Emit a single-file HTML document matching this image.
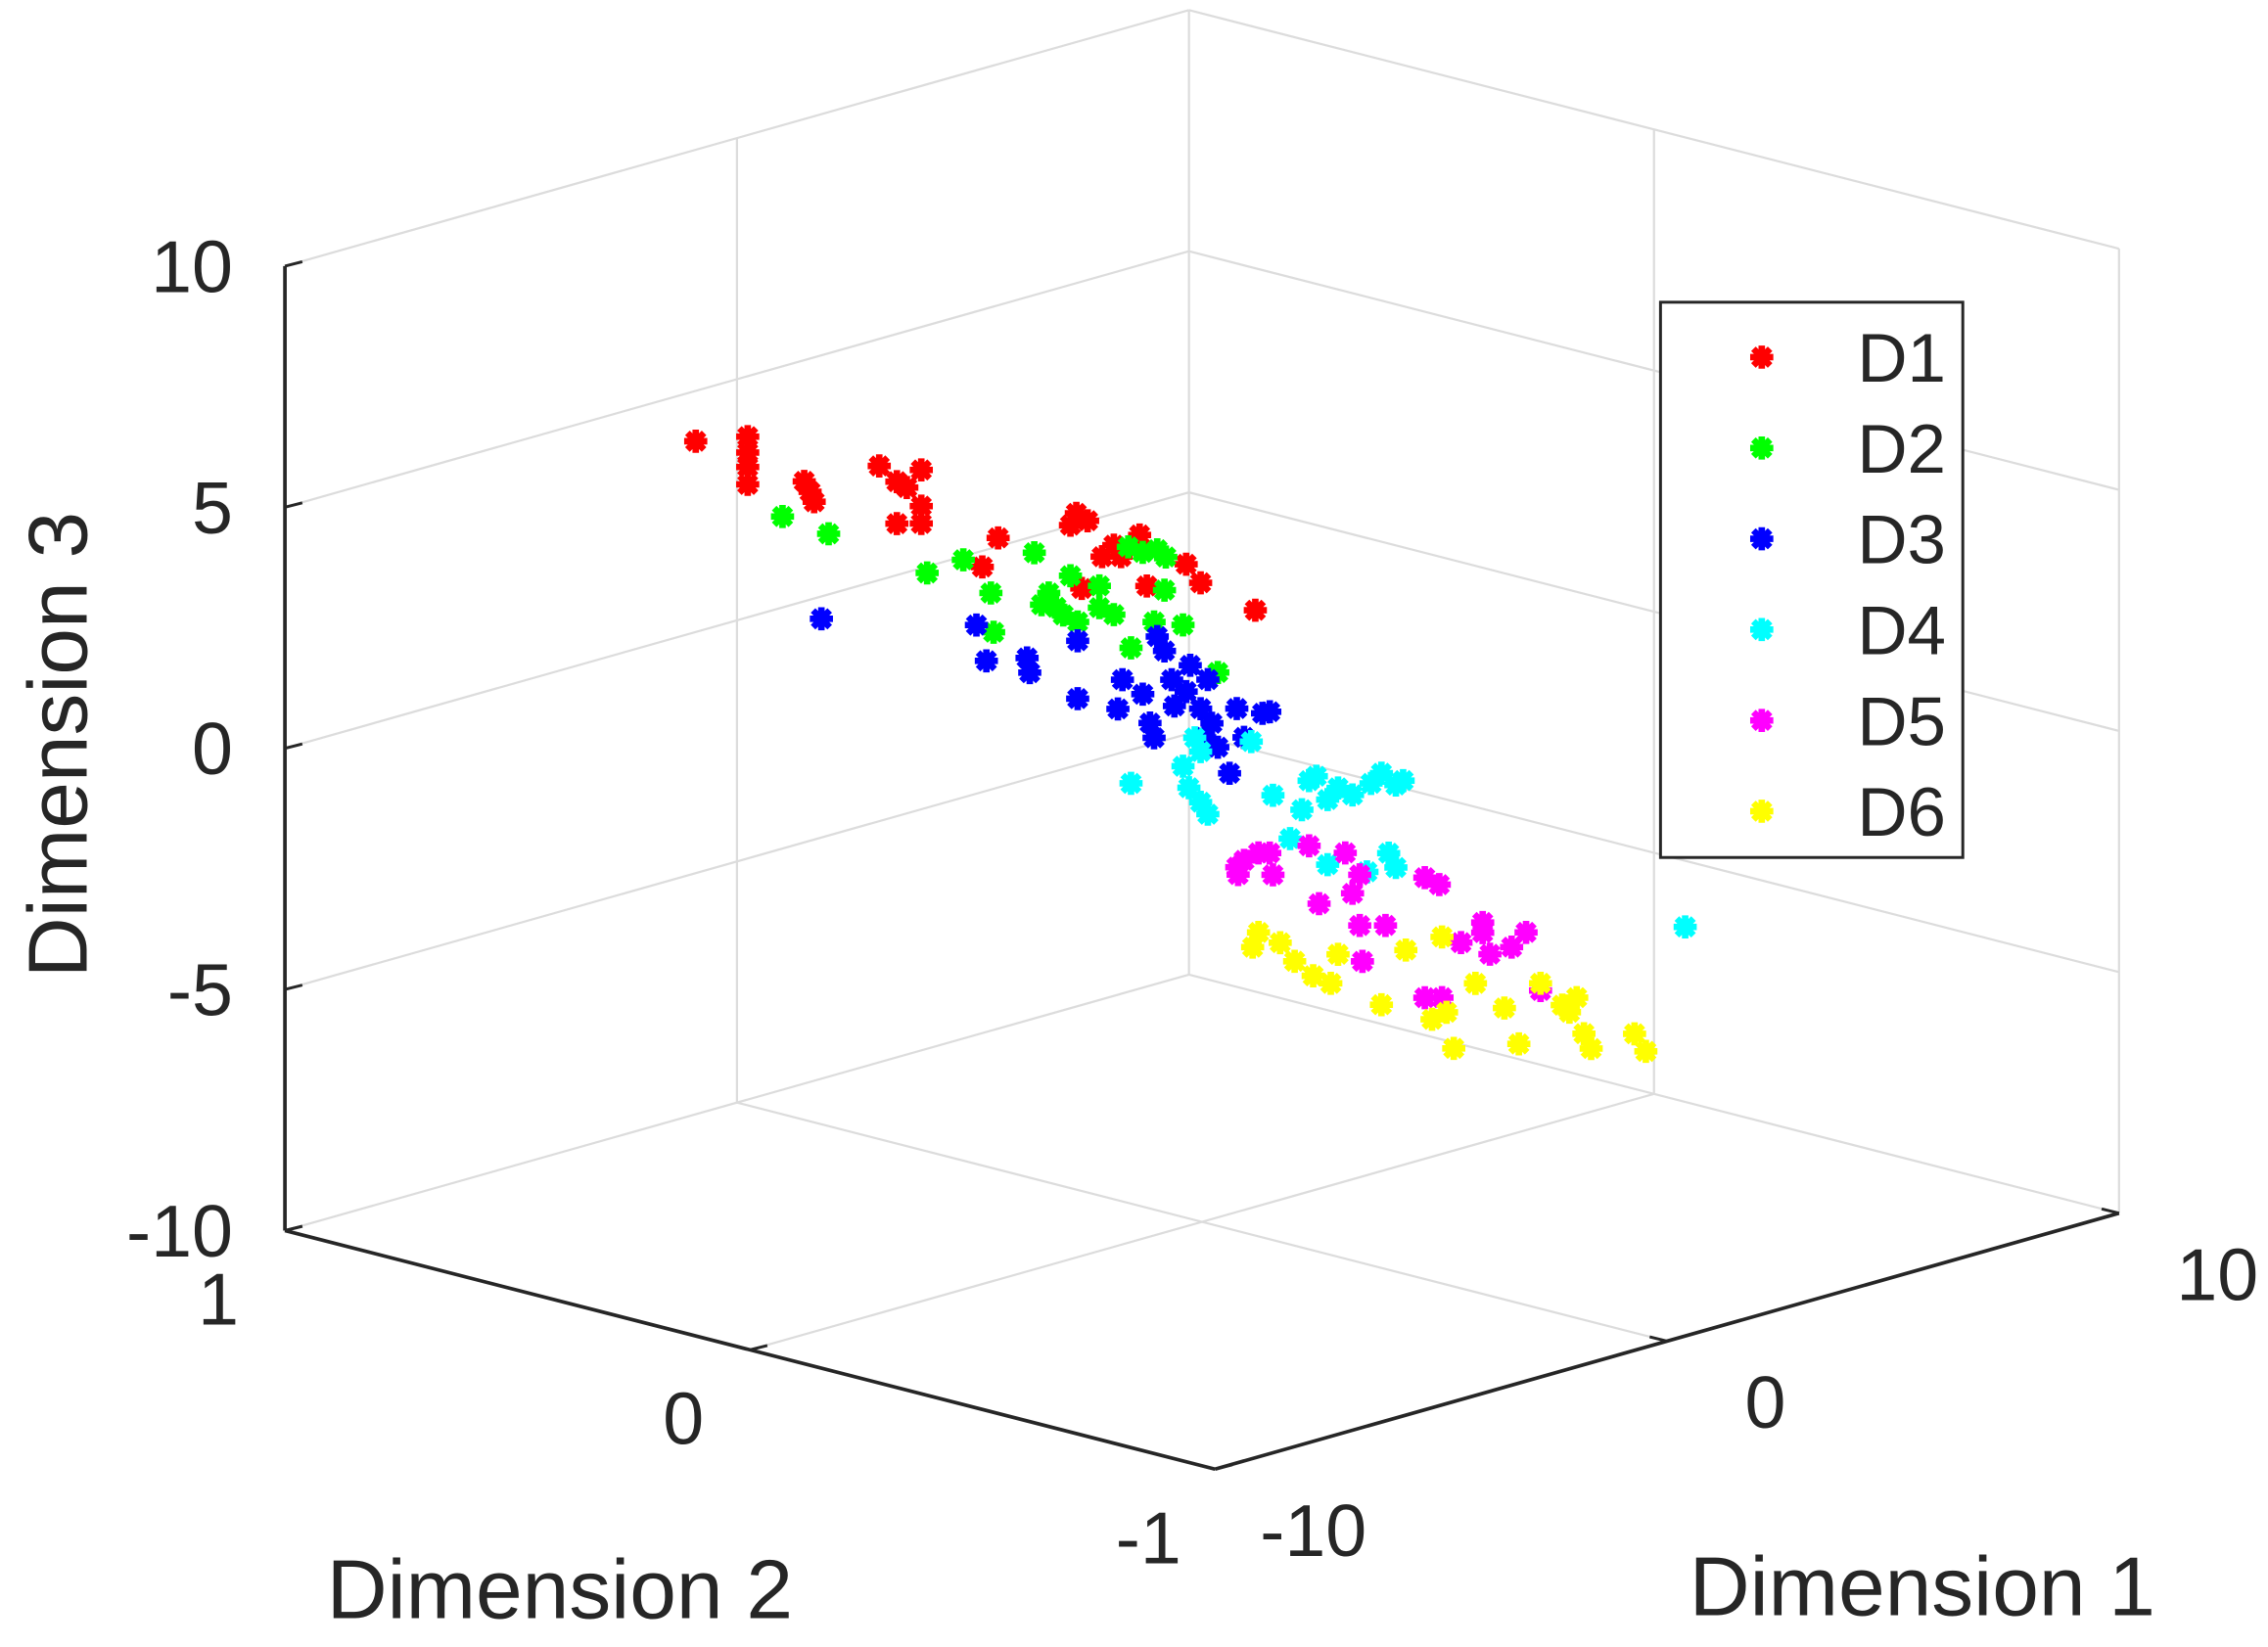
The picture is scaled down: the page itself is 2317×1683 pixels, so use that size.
<!DOCTYPE html>
<html><head><meta charset="utf-8"><style>
html,body{margin:0;padding:0;background:#fff}
svg{display:block}
text{font-family:"Liberation Sans",Arial,sans-serif;fill:#262626}
</style></head><body>
<svg id="chart" width="2317" height="1683" viewBox="0 0 1568 1139" preserveAspectRatio="none" xmlns="http://www.w3.org/2000/svg">
<rect width="1568" height="1139" fill="#fff"/>
<g id="grid"></g>
<g id="axes"></g>
<g id="pts"></g>
<g id="legend"></g>
</svg>
<script>
const seriesNames=["D1","D2","D3","D4","D5","D6"];
const seriesColors=["#ff0000","#00ff00","#0000ff","#00ffff","#ff00ff","#ffff00"];
const zTicks=[10,5,0,-5,-10];
const x1Ticks=[-10,0,10];
const x2Ticks=[1,0,-1];
const d1Dim1=[-11.2,-10.05,-10.05,-10.05,-10.05,-8.8,-8.67,-8.58,-7.14,-6.75,-6.53,-6.21,-6.75,-6.21,-6.21,-4.86,-4.51,-2.78,-2.53,-2.21,-1.95,-1.38,-1.22,-2.66,-0.35,-0.03,1.18,-1.79,-2.91];
const d1Dim3=[9.16,8.95,8.62,8.32,7.96,7.69,7.44,7.21,7.57,7.14,6.96,7.24,6.27,6.13,6.49,4.87,5.38,5.43,5.21,4.38,4.55,4.61,3.51,3.84,3.73,3.26,2.37,4.27,5.22];
const d2Dim1=[-9.28,-8.26,-6.08,-5.28,-4.67,-4.61,-3.71,-3.39,-3.23,-2.91,-2.75,-2.27,-1.95,-1.63,-1.31,-0.99,-0.83,-1.06,-0.42,-1.57,0.35,-3.55,-3.07,-0.8,-2.27];
const d2Dim3=[7.09,6.46,5.07,5.13,4.28,3.45,4.86,3.94,3.6,4.17,3.17,3.79,3.11,4.43,4.23,4.2,3.32,2.72,2.49,2.32,1.3,3.74,3.4,4.0,3.34];
const d3Dim1=[-8.42,-4.99,-4.77,-3.87,-3.81,-2.75,-2.75,-1.86,-1.76,-1.31,-1.15,-1.06,-0.99,-0.83,-0.61,-0.35,-0.26,-0.03,0.06,0.22,0.35,0.61,0.77,0.93,1.34,1.5,0.13,-0.67];
const d3Dim3=[4.74,3.7,2.9,2.72,2.4,2.78,1.58,1.13,1.71,1.29,0.65,0.32,2.4,2.06,0.86,1.09,1.61,0.65,0.03,0.28,-0.25,-0.86,0.44,-0.2,0.19,0.18,1.21,1.42];
const d4Dim1=[-1.57,-0.42,-0.29,-0.03,0.13,-0.16,1.09,1.57,2.21,2.37,2.78,3.01,3.33,3.74,3.97,4.29,4.45,1.95,2.78,3.65,4.13,4.29,10.69,-0.03,2.53];
const d4Dim3=[-0.49,-0.44,-0.92,-1.29,-1.58,0.08,-0.33,-1.57,-2.04,-1.48,-1.98,-1.8,-2.03,-1.9,-1.75,-2.08,-2.03,-2.57,-3.33,-3.71,-3.45,-3.79,-6.72,-0.24,-1.43];
const d5Dim1=[0.8,0.93,1.25,1.57,1.5,2.37,2.59,3.33,3.49,3.49,4.06,3.55,4.93,5.25,5.73,6.21,6.37,6.85,7.17,6.21,4.93,5.31,7.49,0.77,3.17];
const d5Dim3=[-3.01,-2.75,-2.68,-3.22,-2.75,-2.83,-4.09,-4.07,-3.73,-4.78,-4.93,-5.54,-4.17,-4.4,-5.73,-5.44,-6.14,-6.12,-5.9,-5.65,-6.66,-6.76,-7.19,-2.85,-3.19];
const d6Dim1=[1.12,1.25,1.73,2.05,2.46,2.85,3.01,3.97,4.51,5.31,5.41,5.57,6.05,6.69,7.01,7.49,7.97,8.13,8.29,8.45,8.61,9.57,9.82,5.09];
const d6Dim3=[-4.6,-4.33,-4.67,-5.14,-5.55,-5.81,-5.25,-6.55,-5.56,-5.5,-7.09,-7.88,-6.66,-7.34,-8.17,-7.04,-7.62,-7.81,-7.55,-8.34,-8.69,-8.64,-9.07,-7.15];
const dim1Series=[d1Dim1,d2Dim1,d3Dim1,d4Dim1,d5Dim1,d6Dim1];
const dim3Series=[d1Dim3,d2Dim3,d3Dim3,d4Dim3,d5Dim3,d6Dim3];

const NS="http://www.w3.org/2000/svg";
function proj(x1,x2,z){return [831+31.25*x1-321.5*x2, 845-8.85*x1-82.5*x2-33.35*(z+10)];}
function mk(tag,attrs,parent){const e=document.createElementNS(NS,tag);for(const k in attrs)e.setAttribute(k,attrs[k]);parent.appendChild(e);return e;}
function line(p,q,stroke,w,parent){return mk('line',{x1:p[0],y1:p[1],x2:q[0],y2:q[1],stroke:stroke,'stroke-width':w},parent);}
const grid=document.getElementById('grid'),axes=document.getElementById('axes'),pts=document.getElementById('pts'),leg=document.getElementById('legend');
const gc="#dcdcdc";
[0,10].forEach(v=>{const l=line(proj(v,1,-10),proj(v,1,10),gc,1.5,grid);});
[-1,0].forEach(v=>{const l=line(proj(10,v,-10),proj(10,v,10),gc,1.5,grid);});
zTicks.forEach(z=>{
 const a=line(proj(-10,1,z),proj(10,1,z),gc,1.5,grid);
 const b=line(proj(10,1,z),proj(10,-1,z),gc,1.5,grid);
});
const f1=line(proj(0,-1,-10),proj(0,1,-10),gc,1.5,grid);
const f2=line(proj(-10,0,-10),proj(10,0,-10),gc,1.5,grid);
const az=line(proj(-10,1,-10),proj(-10,1,10),"#262626",2.5,axes);
const a2=line(proj(-10,1,-10),proj(-10,-1,-10),"#262626",2.5,axes);
const a1=line(proj(-10,-1,-10),proj(10,-1,-10),"#262626",2.5,axes);
zTicks.forEach(z=>{const p=proj(-10,1,z);
 const t=line(p,[p[0]+12,p[1]-3],"#262626",2,axes);
 const tx=mk('text',{x:p[0]-36,y:p[1]+18,'text-anchor':'end','font-size':51},axes);tx.textContent=z;
 });
x2Ticks.forEach(v=>{const p=proj(-10,v,-10);
 const t=line(p,[p[0]+12,p[1]-3],"#262626",2,axes);
 const tx=mk('text',{x:p[0]-46,y:p[1]+65,'text-anchor':'middle','font-size':51},axes);tx.textContent=v;
 });
x1Ticks.forEach(v=>{const p=proj(v,-1,-10);
 const t=line(p,[p[0]-12,p[1]-3],"#262626",2,axes);
 const tx=mk('text',{x:p[0]+68,y:p[1]+60,'text-anchor':'middle','font-size':51},axes);tx.textContent=v;
 });
let t3=mk('text',{x:0,y:0,transform:'translate(60,515) rotate(-90)','text-anchor':'middle','font-size':58},axes);t3.textContent='Dimension 3';

let t2=mk('text',{x:387,y:1119,'text-anchor':'middle','font-size':58},axes);t2.textContent='Dimension 2';

let t1=mk('text',{x:1329,y:1117,'text-anchor':'middle','font-size':58},axes);t1.textContent='Dimension 1';

function star(cx,cy,color,parent){
 const s=8,g=mk('path',{d:`M${cx-s},${cy}H${cx+s}M${cx},${cy-s}V${cy+s}M${cx-s*.72},${cy-s*.72}L${cx+s*.72},${cy+s*.72}M${cx-s*.72},${cy+s*.72}L${cx+s*.72},${cy-s*.72}`,stroke:color,'stroke-width':4.5,fill:'none'},parent);return g;}
dim1Series.forEach((xs,i)=>{xs.forEach((x,j)=>{const p=proj(x,0,dim3Series[i][j]);
 const m=star(p[0],p[1],seriesColors[i],pts);
 
 });});
const box=mk('rect',{x:1148,y:209,width:209,height:384,fill:'#fff',stroke:'#262626','stroke-width':2},leg);

seriesNames.forEach((n,i)=>{const y=247+i*62.8;
 const m=star(1218,y,seriesColors[i],leg);
 
 const tx=mk('text',{x:1284,y:y+17,'font-size':48},leg);tx.textContent=n;
 });
</script>
</body></html>
